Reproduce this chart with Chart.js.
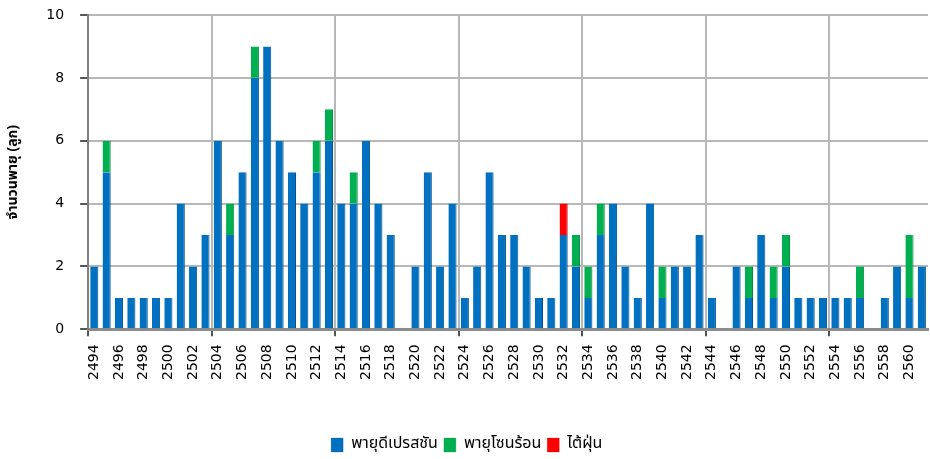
<!DOCTYPE html>
<html>
<head>
<meta charset="utf-8">
<script src="https://cdn.jsdelivr.net/npm/chart.js@4/dist/chart.umd.min.js"></script>
<style>
html,body{margin:0;padding:0;background:#fff;}
#wrap{width:930px;height:459px;position:relative;}
</style>
</head>
<body>
<div id="wrap"><canvas id="myChart"></canvas></div>
<script>
let years = [2494,2495,2496,2497,2498,2499,2500,2501,2502,2503,
    2504,2505,2506,2507,2508,2509,2510,2511,2512,2513,
    2514,2515,2516,2517,2518,2519,2520,2521,2522,2523,
    2524,2525,2526,2527,2528,2529,2530,2531,2532,2533,
    2534,2535,2536,2537,2538,2539,2540,2541,2542,2543,
    2544,2545,2546,2547,2548,2549,2550,2551,2552,2553,
    2554,2555,2556,2557,2558,2559,2560,2561]

let depression = [2,5,1,1,1,1,1,4,2,3,
    6,3,5,8,9,6,5,4,5,6,
    4,4,6,4,3,0,2,5,2,4,
    1,2,5,3,3,2,1,1,3,2,
    1,3,4,2,1,4,1,2,2,3,
    1,0,2,1,3,1,2,1,1,1,
    1,1,1,0,1,2,1,2]

let tropicalStorm = [0,1,0,0,0,0,0,0,0,0,
    0,1,0,1,0,0,0,0,1,1,
    0,1,0,0,0,0,0,0,0,0,
    0,0,0,0,0,0,0,0,0,1,
    1,1,0,0,0,0,1,0,0,0,
    0,0,0,1,0,1,1,0,0,0,
    0,0,1,0,0,0,2,0]

let typhoon = [0,0,0,0,0,0,0,0,0,0,
    0,0,0,0,0,0,0,0,0,0,
    0,0,0,0,0,0,0,0,0,0,
    0,0,0,0,0,0,0,0,1,0,
    0,0,0,0,0,0,0,0,0,0,
    0,0,0,0,0,0,0,0,0,0,
    0,0,0,0,0,0,0,0]

let seriesNames = ['พายุดีเปรสชัน','พายุโซนร้อน','ไต้ฝุ่น']
let yTicks = [0,2,4,6,8,10]
let yTitle = 'จำนวนพายุ (ลูก)'

let thaiFont = 'Tahoma, "Noto Sans Thai", "DejaVu Sans", "Noto Sans", sans-serif'
let numFont = '"DejaVu Sans", Tahoma, sans-serif'
let gridGray = '#b8b8b8'

function barSet(label, data, color, edge){
    return {
        label: label,
        data: data,
        backgroundColor: color,
        borderColor: edge,
        borderWidth: {right: 1, left: 0, top: 0, bottom: 0},
        borderSkipped: false,
        barPercentage: 0.66,
        categoryPercentage: 1,
        stack: 's'
    }
}

new Chart(document.getElementById('myChart'), {
    type: 'bar',
    data: {
        labels: years.map(String),
        datasets: [
            barSet(seriesNames[0], depression, '#0070C0', '#00508c'),
            barSet(seriesNames[1], tropicalStorm, '#00B050', '#008a3e'),
            barSet(seriesNames[2], typhoon, '#FF0000', '#c00000')
        ]
    },
    options: {
        responsive: true,
        maintainAspectRatio: false,
        animation: false,
        layout: {
            padding: {left: 5.5, right: 2, top: 15, bottom: -4}
        },
        plugins: {
            tooltip: {enabled: false},
            legend: {
                position: 'bottom',
                labels: {
                    boxWidth: 12,
                    boxHeight: 14,
                    padding: 6,
                    color: '#000',
                    font: {family: thaiFont, size: 16}
                }
            }
        },
        scales: {
            x: {
                stacked: true,
                // drop the extra side room chart.js keeps for rotated labels, leave a gap above the legend
                afterFit: s => { s.paddingLeft = 0; s.paddingRight = 0; s.height += 43 },
                grid: {
                    offset: true,
                    lineWidth: 2,
                    color: ctx => ctx.index % 10 === 0 ? gridGray : 'transparent',
                    tickColor: ctx => ctx.index % 10 === 0 ? '#555' : 'transparent',
                    tickLength: 7
                },
                border: {color: '#8c8c8c', width: 3},
                ticks: {
                    autoSkip: false,
                    minRotation: 90,
                    maxRotation: 90,
                    padding: 8,
                    color: '#000',
                    font: {family: numFont, size: 14},
                    callback: function(v, i){ return i % 2 === 0 ? String(years[i]) : '' }
                }
            },
            y: {
                stacked: true,
                min: yTicks[0],
                max: yTicks[yTicks.length - 1],
                afterFit: s => { s.paddingTop = 0 },
                afterBuildTicks: axis => { axis.ticks = yTicks.map(v => ({value: v})) },
                grid: {
                    color: gridGray,
                    lineWidth: 2,
                    tickColor: '#555',
                    tickLength: 8
                },
                border: {color: '#808080', width: 2},
                ticks: {
                    padding: 16,
                    color: '#000',
                    font: {family: numFont, size: 14}
                },
                title: {
                    display: true,
                    text: yTitle,
                    color: '#000',
                    padding: {top: 0, bottom: 8},
                    font: {family: thaiFont, size: 14, weight: 'bold'}
                }
            }
        }
    }
})
</script>
</body>
</html>
